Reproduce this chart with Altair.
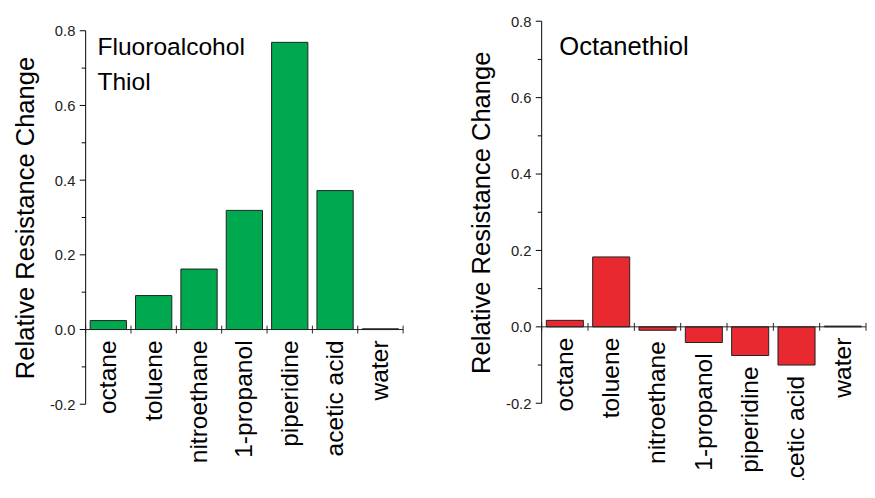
import altair as alt
import pandas as pd

solvents = ["octane", "toluene", "nitroethane", "1-propanol", "piperidine", "acetic acid", "water"]
fluoro_values = [0.024, 0.091, 0.162, 0.319, 0.769, 0.372, 0.002]
octane_values = [0.017, 0.183, -0.009, -0.041, -0.075, -0.100, 0.002]
y_major = [-0.2, 0.0, 0.2, 0.4, 0.6, 0.8]
y_minor = [-0.1, 0.1, 0.3, 0.5, 0.7]
left_notes = ["Fluoroalcohol", "Thiol"]
left_note_y = [0.734, 0.642]
right_notes = ["Octanethiol"]
right_note_y = [0.712]

FONT = "Liberation Sans"
H = 476
YMIN, YMAX = -0.2, 0.8


def panel(values, color, width, yrange, notes, note_ys, note_x, note_size):
    df = pd.DataFrame({"solvent": solvents, "value": values})
    df["label_y"] = df["value"].clip(upper=0)
    df["zero"] = 0.0
    yscale = alt.Scale(domain=[YMIN, YMAX], range=yrange, nice=False, zero=False)
    band = alt.Scale(domain=solvents, paddingInner=0.2, paddingOuter=0.1)
    flat = alt.Scale(domain=solvents, paddingInner=0, paddingOuter=0)
    zero_px = yrange[0] + (0 - YMIN) / (YMAX - YMIN) * (yrange[1] - yrange[0])

    bars = alt.Chart(df).mark_bar(color=color, stroke="#222", strokeWidth=1).encode(
        x=alt.X("solvent:N", scale=band, axis=None),
        y=alt.Y("value:Q", scale=yscale,
                axis=alt.Axis(values=y_major, domain=False, ticks=False,
                              labelExpr="datum.value < 0 ? '-' + format(-datum.value, '.1f') : format(datum.value, '.1f')",
                              title="Relative Resistance Change")),
        y2="zero:Q",
    )
    yline = alt.Chart(pd.DataFrame({"a": [YMIN], "b": [YMAX]})).mark_rule(color="black", strokeWidth=1).encode(
        x=alt.value(0), y=alt.Y("a:Q", scale=yscale), y2="b:Q"
    )
    major = alt.Chart(pd.DataFrame({"v": y_major})).mark_rule(color="black", strokeWidth=1).encode(
        x=alt.value(-6), x2=alt.value(0), y=alt.Y("v:Q", scale=yscale)
    )
    minor = alt.Chart(pd.DataFrame({"v": y_minor})).mark_rule(color="black", strokeWidth=1).encode(
        x=alt.value(-4), x2=alt.value(0), y=alt.Y("v:Q", scale=yscale)
    )
    zero_line = alt.Chart(pd.DataFrame({"z": [0.0]})).mark_rule(color="#222", strokeWidth=1).encode(
        x=alt.value(0), x2=alt.value(width), y=alt.Y("z:Q", scale=yscale)
    )
    ticks = alt.Chart(df).mark_rule(color="#222", strokeWidth=1).encode(
        x=alt.X("solvent:N", scale=flat, bandPosition=0, axis=None),
        y=alt.value(zero_px - 4), y2=alt.value(zero_px + 4),
    )
    end_tick = alt.Chart(df).transform_filter(alt.datum.solvent == solvents[-1]).mark_rule(
        color="#222", strokeWidth=1).encode(
        x=alt.X("solvent:N", scale=flat, bandPosition=1, axis=None),
        y=alt.value(zero_px - 4), y2=alt.value(zero_px + 4),
    )
    labels = alt.Chart(df).mark_text(angle=270, align="right", baseline="middle", fontSize=25,
                                     font=FONT, color="black", clip=True, yOffset=11).encode(
        x=alt.X("solvent:N", scale=band, axis=None),
        y=alt.Y("label_y:Q", scale=yscale),
        text="solvent:N",
    )
    ndf = pd.DataFrame({"note": notes, "ny": note_ys})
    note = alt.Chart(ndf).mark_text(align="left", baseline="alphabetic", fontSize=note_size,
                                    font=FONT, color="black").encode(
        x=alt.value(note_x), y=alt.Y("ny:Q", scale=yscale), text="note:N"
    )
    return alt.layer(bars, yline, major, minor, zero_line, ticks, end_tick, labels, note).resolve_scale(
        x="independent").properties(width=width, height=H)


left = panel(fluoro_values, "#00a84f", 323, [399, 19], left_notes, left_note_y, 12, 25)
right = panel(octane_values, "#e8292f", 330, [398, 9.3], right_notes, right_note_y, 18, 26)

chart = alt.hconcat(left, right, spacing=141, bounds="flush").properties(
    padding={"left": 5, "top": 0, "right": 0, "bottom": 0}
).configure_view(stroke=None).configure_axis(
    labelColor="#222", labelFont=FONT, labelFontSize=15,
    titleFont=FONT, titleFontSize=26, titleFontWeight="normal", titleColor="black", grid=False,
    labelPadding=11, titlePadding=11,
)

chart.save("out.html", embed_options={"renderer": "svg", "actions": False})
